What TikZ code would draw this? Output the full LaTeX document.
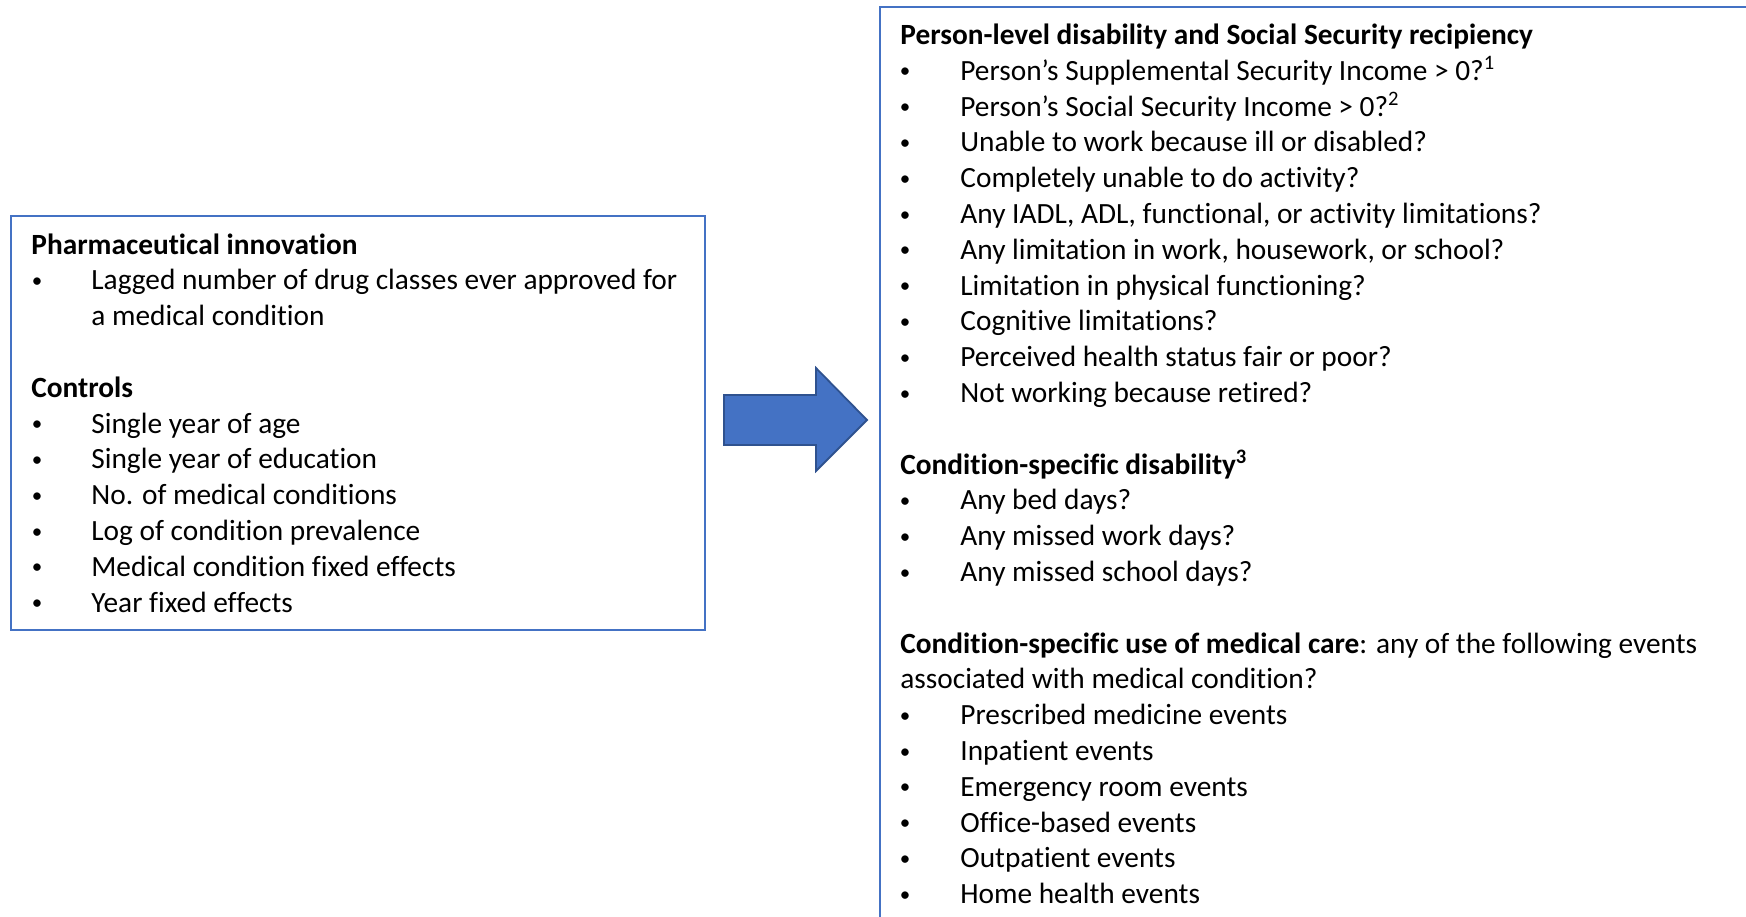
\documentclass[tikz,border=0pt]{standalone}
\usepackage{fontspec}
\setmainfont{Carlito}[Ligatures=NoCommon]
\usetikzlibrary{calc}
\definecolor{boxblue}{HTML}{4472C4}
\definecolor{arrowedge}{HTML}{2F528F}
\tikzset{
  every node/.style={inner sep=0pt, font=\fontsize{14.67}{17.9}\selectfont},
  frame/.style={draw=boxblue, line width=1pt},
  head/.style={anchor=base west, font=\fontsize{14.67}{17.9}\selectfont\bfseries},
  entry/.style={anchor=base west},
  dot/.style={anchor=base, font=\fontsize{10.5}{12}\selectfont, yshift=1.2pt},
  blockarrow/.style={draw=arrowedge, fill=boxblue, line width=0.9pt, line join=miter}
}

\begin{document}
\begin{tikzpicture}[x=0.5pt,y=-0.5pt]
  \useasboundingbox (0,0) rectangle (1746,916);
  \clip (0,0) rectangle (1746,916);

  % the two boxes
  \draw[frame] (11,216) rectangle (705,630);
  \draw[frame] (880,7) rectangle (1760,940);

  % left box: inputs
  \node[head] (pharm) at (31,254) {Pharmaceutical innovation};
  \node[dot] (pb1) at (37,289.8) {\textbullet};
  \node[entry] (lag1) at (91,289.8) {Lagged number of drug classes ever approved for};
  \node[entry] (lag2) at (91,325.6) {a medical condition};
  \node[head] (ctrl) at (31,397.2) {Controls};
  \foreach \txt [count=\i] in {Single year of age, Single year of education,
      No. of medical conditions, Log of condition prevalence,
      Medical condition fixed effects, Year fixed effects}{
    \node[dot] (cb\i) at (37,{397.2+35.8*\i}) {\textbullet};
    \node[entry] (ctl\i) at (91,{397.2+35.8*\i}) {\txt};
  }

  % block arrow
  \coordinate (atail) at (724,420);
  \coordinate (atip) at (867,420);
  \draw[blockarrow] (atail) ++(0,-25) -- ++(92,0) -- ++(0,-27) -- (atip)
    -- (816,471) -- (816,445) -- ($(atail)+(0,25)$) -- cycle;

  % right box: outcomes
  \node[head] (person) at (900,44.5) {Person-level disability and Social Security recipiency};
  \foreach \txt [count=\i] in {{Person’s Supplemental Security Income > 0?\textsuperscript{1}},
      {Person’s Social Security Income > 0?\textsuperscript{2}},
      {Unable to work because ill or disabled?},
      {Completely unable to do activity?},
      {Any IADL, ADL, functional, or activity limitations?},
      {Any limitation in work, housework, or school?},
      {Limitation in physical functioning?},
      {Cognitive limitations?},
      {Perceived health status fair or poor?},
      {Not working because retired?}}{
    \node[dot] (db\i) at (905,{44.5+35.8*\i}) {\textbullet};
    \node[entry] (dis\i) at (960,{44.5+35.8*\i}) {\txt};
  }
  \node[head] (cond) at (900,474.1) {Condition-specific disability\textsuperscript{3}};
  \foreach \txt [count=\i] in {Any bed days?, Any missed work days?, Any missed school days?}{
    \node[dot] (kb\i) at (905,{474.1+35.8*\i}) {\textbullet};
    \node[entry] (cds\i) at (960,{474.1+35.8*\i}) {\txt};
  }
  \node[entry] (care1) at (900,653.1) {\textbf{Condition-specific use of medical care}: any of the following events};
  \node[entry] (care2) at (900,688.9) {associated with medical condition?};
  \foreach \txt [count=\i] in {Prescribed medicine events, Inpatient events,
      Emergency room events, Office-based events, Outpatient events, Home health events}{
    \node[dot] (eb\i) at (905,{688.9+35.8*\i}) {\textbullet};
    \node[entry] (ev\i) at (960,{688.9+35.8*\i}) {\txt};
  }
\end{tikzpicture}
\end{document}
